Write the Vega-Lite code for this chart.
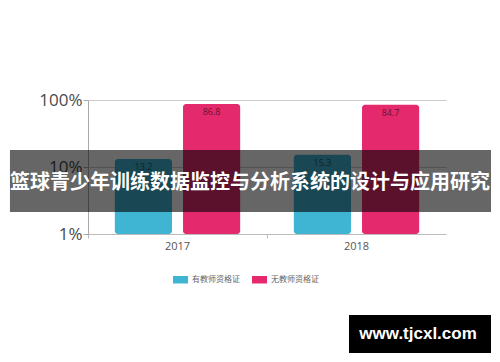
{
  "$schema": "https://vega.github.io/schema/vega-lite/v6.json",
  "width": 358,
  "height": 134,
  "autosize": {"type": "none"},
  "padding": {"left": 88, "top": 100, "right": 54, "bottom": 128},
  "background": "white",
  "config": {"view": {"stroke": null}, "font": "Open Sans"},
  "datasets": {
    "bars": [
      {"year": "2017", "series": "有教师资格证", "value": 13.2},
      {"year": "2017", "series": "无教师资格证", "value": 86.8},
      {"year": "2018", "series": "有教师资格证", "value": 15.3},
      {"year": "2018", "series": "无教师资格证", "value": 84.7}
    ],
    "banner": [{"text": "篮球青少年训练数据监控与分析系统的设计与应用研究"}],
    "site": [{"text": "www.tjcxl.com"}]
  },
  "layer": [
    {
      "data": {"name": "bars"},
      "layer": [
        {
          "mark": {"type": "bar", "cornerRadius": 3},
          "encoding": {
            "x": {
              "field": "year", "type": "nominal",
              "scale": {"paddingInner": 0, "paddingOuter": 0},
              "axis": {"title": null, "labelAngle": 0, "labelFontSize": 11, "labelColor": "#555", "domainColor": "#bbb", "tickColor": "#bbb", "tickSize": 4, "labelPadding": 2, "bandPosition": 0}
            },
            "xOffset": {
              "field": "series", "type": "nominal",
              "scale": {"domain": ["有教师资格证", "无教师资格证"], "paddingInner": 0.162, "paddingOuter": 0.3935}
            },
            "y": {
              "field": "value", "type": "quantitative",
              "scale": {"type": "log", "domain": [1, 100], "nice": false},
              "axis": {"title": null, "values": [1, 10, 100], "labelExpr": "datum.value + '%'", "labelFontSize": 17, "labelColor": "#4a4a4a", "domainColor": "#aaa", "tickColor": "#aaa", "tickSize": 5, "labelPadding": 1, "gridColor": "#ccc", "labelFont": "Open Sans"}
            },
            "y2": {"datum": 1},
            "color": {
              "field": "series", "type": "nominal",
              "scale": {"domain": ["有教师资格证", "无教师资格证"], "range": ["#40b4d3", "#e42a6c"]},
              "legend": {"title": null, "orient": "none", "legendX": 85, "legendY": 172, "direction": "horizontal", "symbolType": "M-1,-0.5H1V0.5H-1Z", "symbolSize": 225, "symbolStrokeWidth": 0, "labelFontSize": 8, "labelColor": "#666", "labelFont": "Noto Sans CJK SC", "columnPadding": 12, "labelOffset": 4}
            }
          }
        },
        {
          "mark": {"type": "text", "baseline": "top", "dy": 4, "fontSize": 9, "color": "#000", "opacity": 0.55},
          "encoding": {
            "x": {"field": "year", "type": "nominal"},
            "xOffset": {"field": "series", "type": "nominal"},
            "y": {"field": "value", "type": "quantitative"},
            "text": {"field": "value", "type": "quantitative", "format": ".1f"}
          }
        }
      ]
    },
    {
      "data": {"name": "banner"},
      "layer": [
        {
          "mark": {"type": "rect", "color": "#000", "opacity": 0.6},
          "encoding": {
            "x": {"datum": -0.218, "type": "quantitative", "scale": {"domain": [0, 1], "nice": false, "zero": false}, "axis": null},
            "x2": {"datum": 1.1257},
            "y": {"datum": 17.9, "type": "quantitative", "scale": {"type": "log", "domain": [1, 100], "nice": false}},
            "y2": {"datum": 2.13}
          }
        },
        {
          "mark": {"type": "text", "color": "white", "fontSize": 20, "fontWeight": "bold", "font": "Noto Sans CJK SC", "align": "center", "baseline": "middle"},
          "encoding": {
            "x": {"datum": 0.4525, "type": "quantitative", "scale": {"domain": [0, 1], "nice": false, "zero": false}, "axis": null},
            "y": {"datum": 5.77, "type": "quantitative", "scale": {"type": "log", "domain": [1, 100], "nice": false}},
            "text": {"field": "text"}
          }
        }
      ]
    },
    {
      "data": {"name": "site"},
      "layer": [
        {
          "mark": {"type": "rect", "color": "#000", "opacity": 1},
          "encoding": {
            "x": {"datum": 0.729, "type": "quantitative", "scale": {"domain": [0, 1], "nice": false, "zero": false}, "axis": null},
            "x2": {"datum": 1.1257},
            "y": {"datum": 0.0618, "type": "quantitative", "scale": {"type": "log", "domain": [1, 100], "nice": false}},
            "y2": {"datum": 0.01675}
          }
        },
        {
          "mark": {"type": "text", "color": "white", "fontSize": 17, "fontWeight": "bold", "font": "Liberation Sans", "align": "center", "baseline": "middle"},
          "encoding": {
            "x": {"datum": 0.922, "type": "quantitative", "scale": {"domain": [0, 1], "nice": false, "zero": false}, "axis": null},
            "y": {"datum": 0.0322, "type": "quantitative", "scale": {"type": "log", "domain": [1, 100], "nice": false}},
            "text": {"field": "text"}
          }
        }
      ]
    }
  ],
  "resolve": {"scale": {"x": "independent"}}
}
